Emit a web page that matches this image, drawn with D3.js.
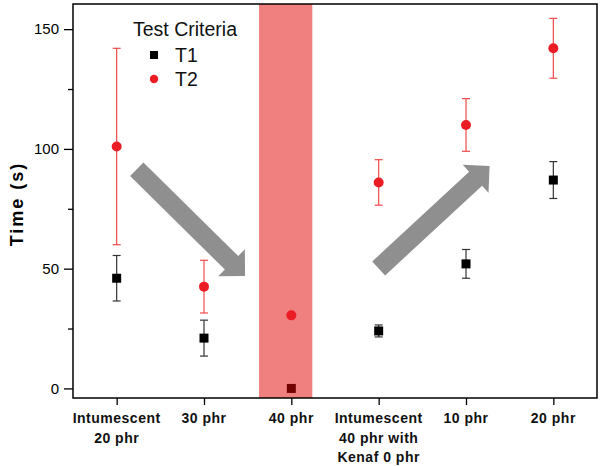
<!DOCTYPE html>
<html>
<head>
<meta charset="utf-8">
<script src="https://cdn.jsdelivr.net/npm/d3@7"></script>
<style>
  html, body { margin: 0; padding: 0; background: #fff; }
  svg { display: block; font-family: "Liberation Sans", Arial, sans-serif; }
</style>
</head>
<body>
<svg id="chart" width="600" height="466"></svg>
<script>
// ---- data ----
const categories = [
  ["Intumescent", "20 phr"],
  ["30 phr"],
  ["40 phr"],
  ["Intumescent", "40 phr with", "Kenaf 0 phr"],
  ["10 phr"],
  ["20 phr"]
];
const t1Values = [46, 21, 0, 24, 52, 87];
const t1Errors = [9.5, 7.5, 0, 2.5, 6, 7.7];
const t2Values = [101, 42.5, 30.5, 86, 110, 142];
const t2Errors = [41, 11, 0, 9.5, 11, 12.5];
const yTicks = [0, 50, 100, 150];
const yMinorTicks = [25, 75, 125];
const highlightBand = [1.63, 2.24];           // category-index range
const arrows = [
  { from: [0.23, 91.5], to: [1.47, 46.9] },
  { from: [3.0, 50.1], to: [4.27, 92.9] }
];
const legendTitle = "Test Criteria";
const seriesNames = ["T1", "T2"];

// ---- layout ----
const svg = d3.select("#chart");
const pL = 73, pR = 597, pT = 4, pB = 398;
const x = d3.scaleLinear().domain([-0.5, 5.5]).range([pL, pR]);
const y = d3.scaleLinear().domain([-4, 160.5]).range([pB, pT]);
const red = "#ec1c24";

// T1 series (drawn beneath band)
const g1 = svg.append("g");
t1Values.forEach((v, i) => {
  const e = t1Errors[i];
  if (e > 0) {
    g1.append("line").attr("x1", x(i)).attr("x2", x(i)).attr("y1", y(v - e)).attr("y2", y(v + e))
      .attr("stroke", "#333").attr("stroke-width", 1.2);
    [v - e, v + e].forEach(c => g1.append("line").attr("x1", x(i) - 4).attr("x2", x(i) + 4)
      .attr("y1", y(c)).attr("y2", y(c)).attr("stroke", "#333").attr("stroke-width", 1.2));
  }
  g1.append("rect").attr("x", x(i) - 4.5).attr("y", y(v) - 4.5).attr("width", 9).attr("height", 9)
    .attr("fill", "#000");
});

// highlight band
svg.append("rect")
  .attr("x", x(highlightBand[0])).attr("width", x(highlightBand[1]) - x(highlightBand[0]))
  .attr("y", pT).attr("height", pB - pT)
  .attr("fill", "rgb(225,0,0)").attr("fill-opacity", 0.5);

// arrows
function arrowPath(p0, p1) {
  const dx = p1[0] - p0[0], dy = p1[1] - p0[1];
  const L = Math.hypot(dx, dy), ux = dx / L, uy = dy / L, nx = -uy, ny = ux;
  const sw = 9.5, hw = 19, hl = 19;
  const bx = p1[0] - ux * hl, by = p1[1] - uy * hl;
  const pts = [
    [p0[0] + nx * sw, p0[1] + ny * sw],
    [bx + nx * sw, by + ny * sw],
    [bx + nx * hw, by + ny * hw],
    [p1[0], p1[1]],
    [bx - nx * hw, by - ny * hw],
    [bx - nx * sw, by - ny * sw],
    [p0[0] - nx * sw, p0[1] - ny * sw]
  ];
  return "M" + pts.map(p => p.join(",")).join("L") + "Z";
}
arrows.forEach(a => {
  svg.append("path")
    .attr("d", arrowPath([x(a.from[0]), y(a.from[1])], [x(a.to[0]), y(a.to[1])]))
    .attr("fill", "#8f8f8f");
});

// T2 series
const g2 = svg.append("g");
t2Values.forEach((v, i) => {
  const e = t2Errors[i];
  if (e > 0) {
    g2.append("line").attr("x1", x(i)).attr("x2", x(i)).attr("y1", y(v - e)).attr("y2", y(v + e))
      .attr("stroke", "#f04a4a").attr("stroke-width", 1.2);
    [v - e, v + e].forEach(c => g2.append("line").attr("x1", x(i) - 4).attr("x2", x(i) + 4)
      .attr("y1", y(c)).attr("y2", y(c)).attr("stroke", "#f04a4a").attr("stroke-width", 1.2));
  }
  g2.append("circle").attr("cx", x(i)).attr("cy", y(v)).attr("r", 5).attr("fill", red);
});

// frame
svg.append("rect").attr("x", pL).attr("y", pT).attr("width", pR - pL).attr("height", pB - pT)
  .attr("fill", "none").attr("stroke", "#000").attr("stroke-width", 1.5);

// y axis
const yAxis = svg.append("g").attr("transform", `translate(${pL},0)`)
  .call(d3.axisLeft(y).tickValues(yTicks).tickSize(9).tickPadding(5).tickFormat(d3.format("d")));
yAxis.select(".domain").remove();
yAxis.selectAll(".tick line").attr("stroke-width", 1.3);
yAxis.selectAll(".tick text").attr("font-size", 15).attr("font-family", "Liberation Sans, Arial, sans-serif").attr("fill", "#000");
const yMinor = svg.append("g").attr("transform", `translate(${pL},0)`)
  .call(d3.axisLeft(y).tickValues(yMinorTicks).tickSize(5).tickFormat(""));
yMinor.select(".domain").remove();
yMinor.selectAll(".tick line").attr("stroke-width", 1.3);

// x axis
const xAxis = svg.append("g").attr("transform", `translate(0,${pB})`)
  .call(d3.axisBottom(x).tickValues(d3.range(categories.length)).tickSize(7).tickFormat(""));
xAxis.select(".domain").remove();
xAxis.selectAll(".tick line").attr("stroke-width", 1.3);
categories.forEach((lines, i) => {
  const t = svg.append("text").attr("x", x(i)).attr("y", 423).attr("text-anchor", "middle")
    .attr("font-size", 14).attr("font-weight", "bold").attr("letter-spacing", 0.5).attr("fill", "#111");
  lines.forEach((s, k) => t.append("tspan").attr("x", x(i)).attr("dy", k === 0 ? 0 : 19.5).text(s));
});

// y title
svg.append("text").attr("transform", "translate(23,204) rotate(-90)")
  .attr("text-anchor", "middle").attr("font-size", 18).attr("font-weight", "bold")
  .attr("letter-spacing", 2).attr("fill", "#000").text("Time (s)");

// legend
svg.append("text").attr("x", 133).attr("y", 36).attr("font-size", 19.5).attr("fill", "#111").text(legendTitle);
svg.append("rect").attr("x", 150).attr("y", 51).attr("width", 8).attr("height", 8).attr("fill", "#000");
svg.append("text").attr("x", 175).attr("y", 62).attr("font-size", 19.5).attr("fill", "#111").text(seriesNames[0]);
svg.append("circle").attr("cx", 154).attr("cy", 79).attr("r", 4.2).attr("fill", red);
svg.append("text").attr("x", 175).attr("y", 86).attr("font-size", 19.5).attr("fill", "#111").text(seriesNames[1]);
</script>
</body>
</html>
